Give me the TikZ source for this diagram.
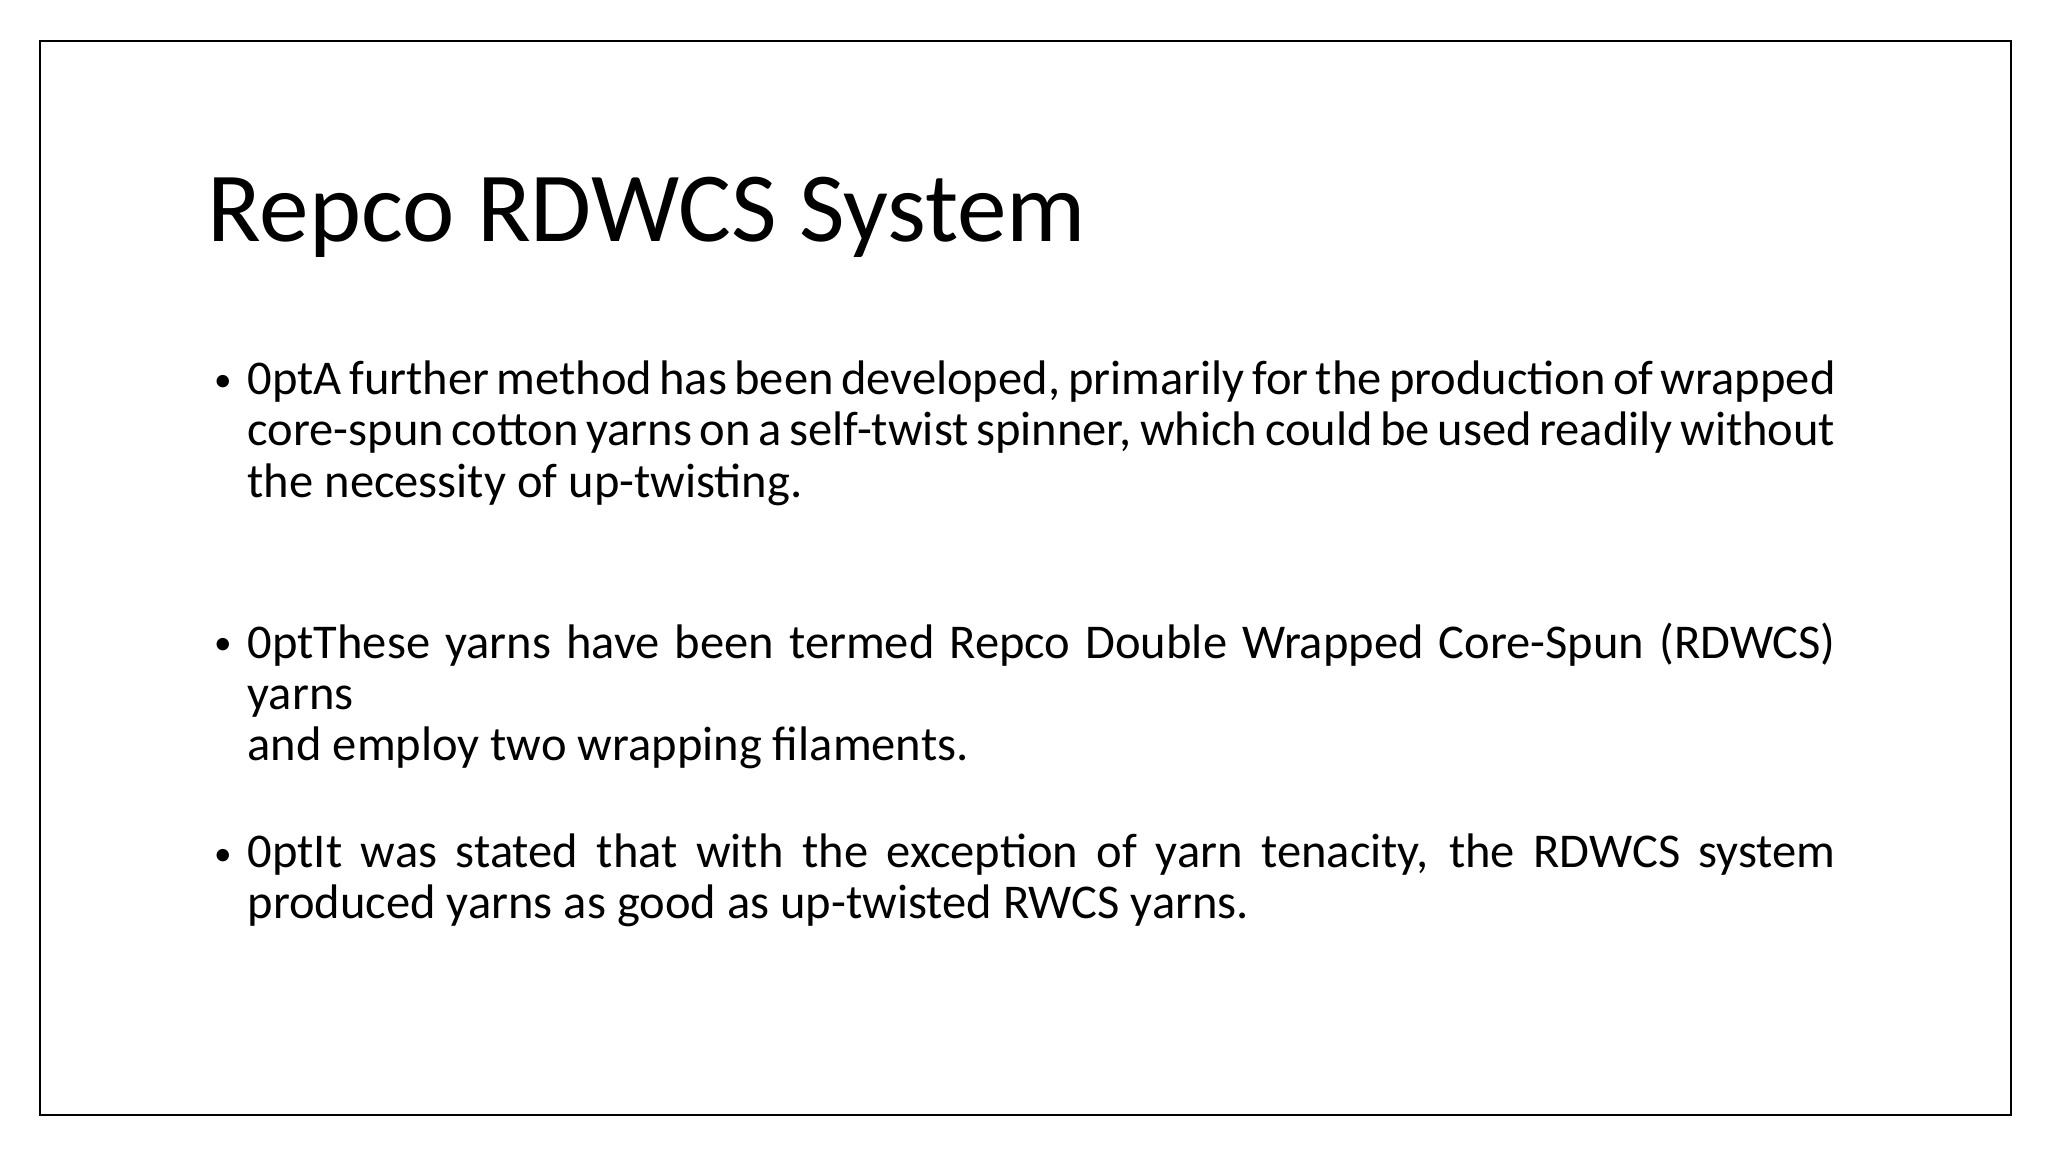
\documentclass[tikz,border=0pt]{standalone}
\usepackage{fontspec}
\setmainfont{Carlito}
\begin{document}
\begin{tikzpicture}[x=0.01cm,y=-0.01cm,
  para/.style={anchor=north west,inner sep=0pt,text width=15.87cm,align=justify,font=\fontsize{13.8}{14.6}\selectfont\hyphenpenalty=10000\relax},
  bul/.style={anchor=base,inner sep=0pt,font=\fontsize{10}{12}\selectfont}]
\useasboundingbox (0,0) rectangle (2048,1152);
\fill[white] (0,0) rectangle (2048,1152);
\node[draw=black,line width=0.6pt,minimum width=19.70cm,minimum height=10.73cm,anchor=north west,inner sep=0pt] (frame) at (39,40) {};
\node[anchor=base west,inner sep=0pt,font=\fontsize{28.2}{30}\selectfont] (title) at (207,242) {Repco RDWCS System};
\node[para] (p1) at (247,360) {A further method has been developed, primarily for the production of wrapped\linebreak core-spun cotton yarns on a self-twist spinner, which could be used readily without\linebreak the necessity of up-twisting.};
\node[para] (p2) at (247,622) {These yarns have been termed Repco Double Wrapped Core-Spun (RDWCS) yarns\linebreak and employ two wrapping filaments.};
\node[para] (p3) at (247,833) {It was stated that with the exception of yarn tenacity, the RDWCS system\linebreak produced yarns as good as up-twisted RWCS yarns.};
\node[bul] (b1) at (223,392) {•};
\node[bul] (b2) at (223,654) {•};
\node[bul] (b3) at (223,865) {•};
\end{tikzpicture}
\end{document}
